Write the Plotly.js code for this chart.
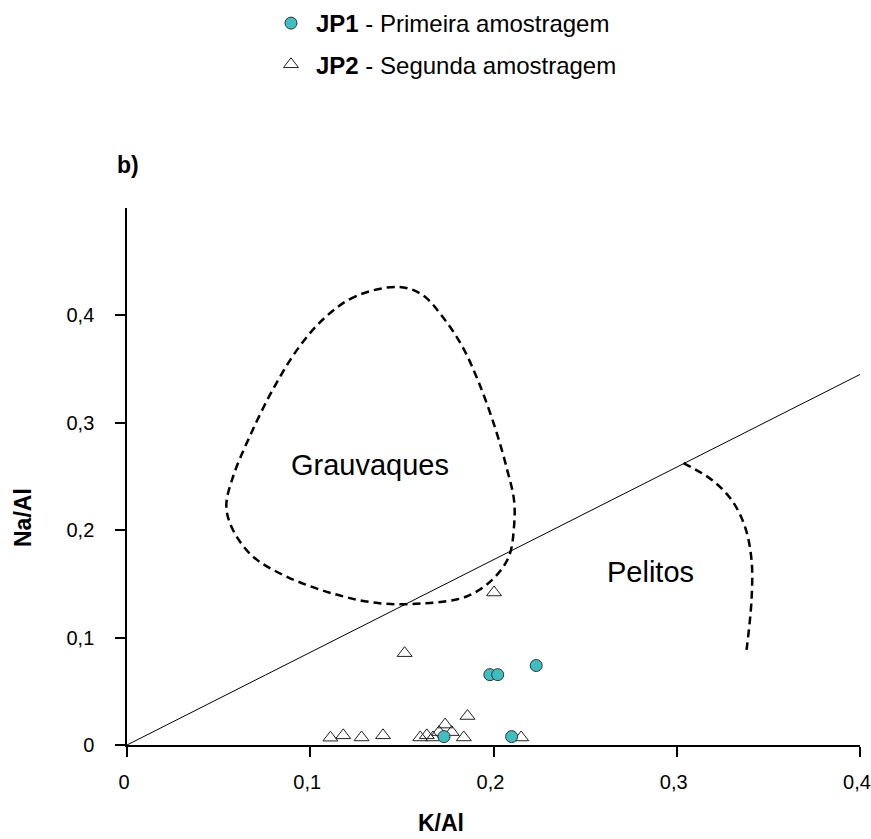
<!DOCTYPE html>
<html>
<head>
<meta charset="utf-8">
<script src="https://cdn.plot.ly/plotly-3.0.1.min.js"></script>
<style>html,body{margin:0;padding:0;background:#fff;}#chart{width:871px;height:839px;}</style>
</head>
<body>
<div id="chart"></div>
<script>
// JP1 - Primeira amostragem (circles)
const jp1K  = [0.173, 0.198, 0.2023, 0.2233, 0.2099];
const jp1Na = [0.0078, 0.0655, 0.0655, 0.074, 0.0078];
// JP2 - Segunda amostragem (triangles)
const jp2K  = [0.1515, 0.2003, 0.111, 0.118, 0.128, 0.1397, 0.160, 0.1636, 0.167, 0.1703, 0.1736, 0.1772, 0.1838, 0.1858, 0.2151];
const jp2Na = [0.0855, 0.142, 0.0068, 0.009, 0.007, 0.009, 0.007, 0.009, 0.007, 0.012, 0.019, 0.012, 0.007, 0.027, 0.007];
// Dividing line
const lineK  = [0, 0.4];
const lineNa = [0, 0.345];
// Grauvaques field boundary
const grauK  = [0.1486, 0.125, 0.1087, 0.0941, 0.0796, 0.0669, 0.0579, 0.0542, 0.0579, 0.0687, 0.0869, 0.1123, 0.1377, 0.1631, 0.1849, 0.1994, 0.2084, 0.2112, 0.2112, 0.2075, 0.2012, 0.1921, 0.183, 0.1721, 0.1613, 0.1486];
const grauNa = [0.4265, 0.418, 0.399, 0.371, 0.331, 0.287, 0.250, 0.222, 0.200, 0.1755, 0.157, 0.141, 0.132, 0.132, 0.138, 0.154, 0.1755, 0.2034, 0.228, 0.256, 0.2936, 0.337, 0.371, 0.399, 0.419, 0.4265];
// Pelitos field boundary
const pelK  = [0.3037, 0.319, 0.33, 0.3372, 0.3408, 0.3408, 0.3381];
const pelNa = [0.2625, 0.247, 0.228, 0.2034, 0.1724, 0.135, 0.0885];
// Ticks
const xTicks = [0, 0.1, 0.2, 0.3, 0.4];
const xTickText = ['0', '0,1', '0,2', '0,3', '0,4'];
const yTicks = [0, 0.1, 0.2, 0.3, 0.4];
const yTickText = ['0', '0,1', '0,2', '0,3', '0,4'];
const PAD = '<span style="color:rgba(0,0,0,0)">0,</span>';

const FONT = '"Liberation Sans", Arial, sans-serif';

const traces = [
  {x: lineK, y: lineNa, mode: 'lines', line: {color: '#000', width: 1}, showlegend: false, hoverinfo: 'skip'},
  {x: grauK, y: grauNa, mode: 'lines', line: {color: '#000', width: 2.5, dash: '8px,5px', shape: 'spline', smoothing: 1}, showlegend: false, hoverinfo: 'skip'},
  {x: pelK, y: pelNa, mode: 'lines', line: {color: '#000', width: 2.5, dash: '8px,5px', shape: 'spline', smoothing: 1}, showlegend: false, hoverinfo: 'skip'},
  {x: jp2K, y: jp2Na, mode: 'markers', name: '<b>JP2</b> - Segunda amostragem', legendgroup: 'b', legendrank: 2,
   marker: {symbol: 'triangle-up-open', size: 13, color: '#222', line: {width: 1}}, cliponaxis: false},
  {x: jp1K, y: jp1Na, mode: 'markers', name: '<b>JP1</b> - Primeira amostragem', legendgroup: 'a', legendrank: 1,
   marker: {symbol: 'circle', size: 12, color: '#3dbfc1', line: {color: '#333', width: 1}}, cliponaxis: false}
];

const PH = 537, PW = 733;
const layout = {
  width: 871, height: 839,
  margin: {l: 127, r: 11, t: 208, b: 94, autoexpand: false},
  paper_bgcolor: '#fff', plot_bgcolor: '#fff',
  font: {family: FONT, size: 20, color: '#000'},
  showlegend: true,
  legend: {xref: 'container', yref: 'container', x: 266/871, y: 1 - 1/839, xanchor: 'left', yanchor: 'top',
           traceorder: 'grouped', tracegroupgap: 7,
           font: {family: FONT, size: 24, color: '#000'}, bgcolor: 'rgba(0,0,0,0)', itemwidth: 40},
  xaxis: {range: [0, 0.4], tickvals: xTicks, ticktext: xTickText, showgrid: false, zeroline: false,
          showline: true, linecolor: '#000', linewidth: 2, ticks: 'outside', ticklen: 10, tickwidth: 2, tickcolor: '#000',
          tickfont: {family: FONT, size: 20}, ticklabelstandoff: 8, ticklabelshift: -3, ticklabeloverflow: 'allow'},
  yaxis: {range: [0, 0.5], tickvals: yTicks, ticktext: yTickText.map(t => t + PAD), showgrid: false, zeroline: false,
          showline: true, linecolor: '#000', linewidth: 2, ticks: 'outside', ticklen: 10, tickwidth: 2, tickcolor: '#000',
          tickfont: {family: FONT, size: 20}},
  annotations: [
    {text: '<b>K/Al</b>', xref: 'paper', yref: 'paper', x: (441-127)/PW, y: -(823-745)/PH, showarrow: false,
     font: {family: FONT, size: 23}, xanchor: 'center', yanchor: 'middle'},
    {text: '<b>Na/Al</b>', xref: 'paper', yref: 'paper', x: -(127-23)/PW, y: (745-518)/PH, showarrow: false,
     textangle: -90, font: {family: FONT, size: 23}, xanchor: 'center', yanchor: 'middle'},
    {text: '<b>b)</b>', xref: 'paper', yref: 'paper', x: (128-127)/PW, y: 1 + (208-165)/PH, showarrow: false,
     font: {family: FONT, size: 23}, xanchor: 'center', yanchor: 'middle'},
    {text: 'Grauvaques', x: 0.1327, y: 0.261, showarrow: false, font: {family: FONT, size: 29}},
    {text: 'Pelitos', x: 0.2858, y: 0.161, showarrow: false, font: {family: FONT, size: 29}}
  ]
};

Plotly.newPlot('chart', traces, layout, {staticPlot: true});
</script>
</body>
</html>
